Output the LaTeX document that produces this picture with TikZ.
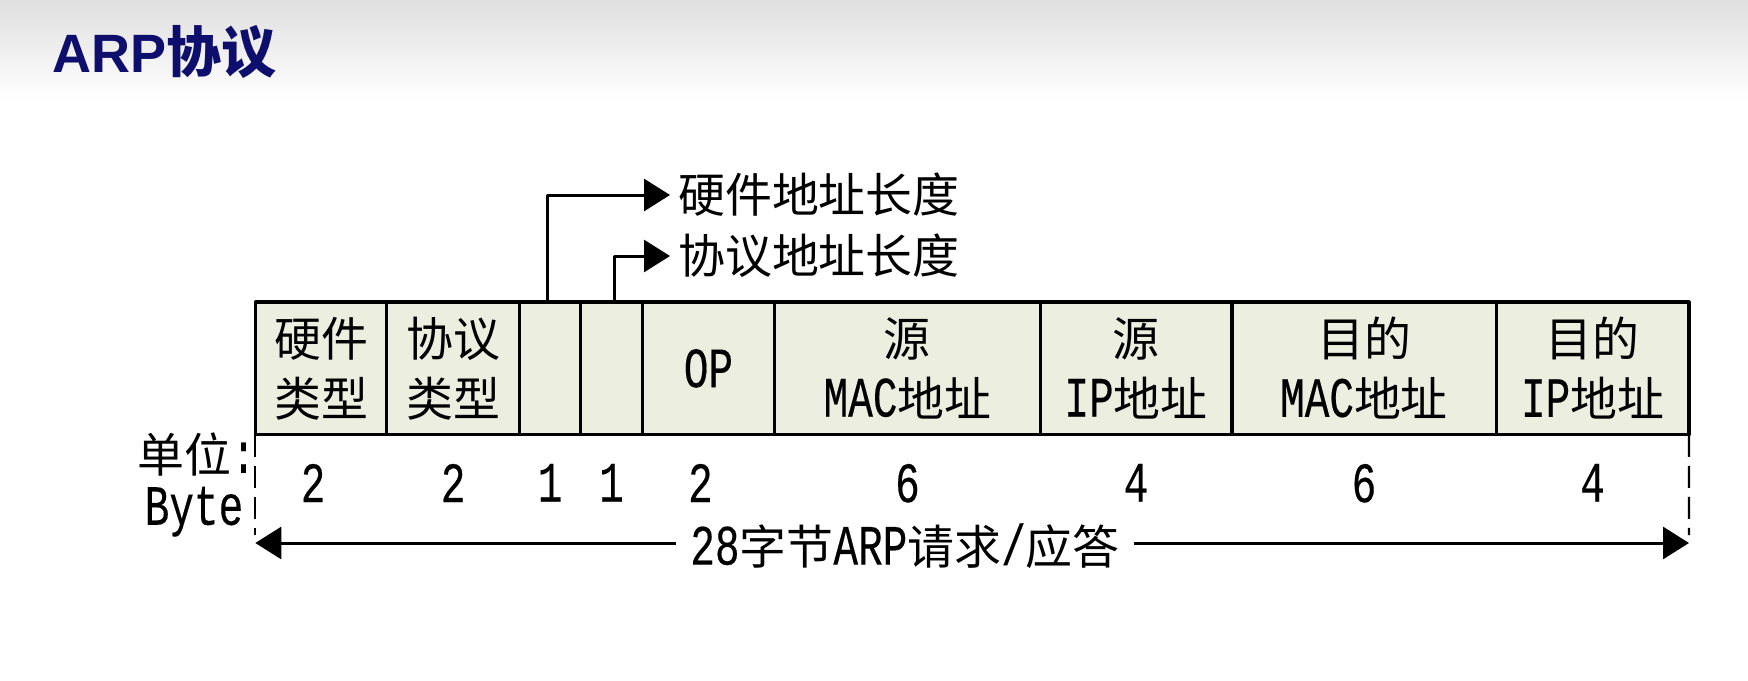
\documentclass[tikz,border=0pt]{standalone}
\usepackage{fontspec}
\setmainfont{Liberation Mono}[Scale=1.24,FakeStretch=0.72,FakeBold=0.3]
\newfontfamily\zhfont{Noto Sans CJK SC}[Scale=1.02]
\newfontfamily\headfont{Liberation Sans}
\newcommand\zh[1]{{\zhfont #1}}
\usetikzlibrary{arrows.meta,positioning}

\begin{document}
\begin{tikzpicture}[x=1pt,y=-1pt,line join=round,
  field/.style={draw,line width=3.2pt,fill=cellfill,minimum height=132.7pt,inner sep=0pt,outer sep=0pt,
    anchor=west,align=center,font=\fontsize{46}{60}\selectfont},
  size/.style={inner sep=0pt,font=\fontsize{46}{50}\selectfont},
  lead/.style={-{Triangle[length=26pt,width=32pt]},line width=3pt},
  bound/.style={line width=2.2pt,dash pattern=on 22pt off 9pt}]
  \definecolor{cellfill}{RGB}{236,238,223}
  \definecolor{titleblue}{RGB}{14,14,108}
  \useasboundingbox (0,0) rectangle (1748,680);
  \fill[white] (0,0) rectangle (1748,680);
  \shade[top color=gray!25,bottom color=white] (0,0) rectangle (1748,100);
  \node[anchor=base west,inner sep=0pt,text=titleblue,font=\fontsize{54}{60}\selectfont] (title) at (52,72.5)
    {\headfont\bfseries ARP\zhfont\bfseries 协议};

  \node[field,minimum width=131.5pt] (hwtype) at (255.3,368.4) {\zh{硬件}\\\zh{类型}};
  \node[field,minimum width=132.7pt] (prtype) at (hwtype.east) {\zh{协议}\\\zh{类型}};
  \node[field,minimum width=61.3pt] (hwlen) at (prtype.east) {};
  \node[field,minimum width=61.3pt] (prlen) at (hwlen.east) {};
  \node[field,minimum width=132.7pt] (op) at (prlen.east) {OP};
  \node[field,minimum width=265.3pt] (srcmac) at (op.east) {\zh{源}\\MAC\zh{地址}};
  \node[field,minimum width=191.8pt] (srcip) at (srcmac.east) {\zh{源}\\IP\zh{地址}};
  \node[field,minimum width=264.2pt] (dstmac) at (srcip.east) {\zh{目的}\\MAC\zh{地址}};
  \node[field,minimum width=192.9pt] (dstip) at (dstmac.east) {\zh{目的}\\IP\zh{地址}};

  \node[size,anchor=west,inner xsep=8pt] (hwlab) at (670,195) {\zh{硬件地址长度}};
  \node[size,anchor=west,inner xsep=8pt] (prlab) at (670,256) {\zh{协议地址长度}};
  \draw[lead] ([xshift=-3pt]hwlen.north) |- (hwlab.west);
  \draw[lead] ([xshift=3pt]prlen.north) |- (prlab.west);

  \node[size,below=29pt of hwtype,xshift=-8pt] (n1) {2};
  \node[size,below=29pt of prtype] (n2) {2};
  \node[size,below=29pt of hwlen] (n3) {1};
  \node[size,below=29pt of prlen] (n4) {1};
  \node[size,below=29pt of op,xshift=-8pt] (n5) {2};
  \node[size,below=29pt of srcmac] (n6) {6};
  \node[size,below=29pt of srcip] (n7) {4};
  \node[size,below=29pt of dstmac] (n8) {6};
  \node[size,below=29pt of dstip] (n9) {4};

  \node[size,anchor=east] (unit) at (256,454.8) {\zh{单位}:};
  \node[size] (byte) at (194,511.7) {Byte};

  \coordinate (ldash) at (255.3,535);
  \coordinate (rdash) at (1689,535);
  \draw[bound] (hwtype.south west) -- (ldash);
  \draw[bound] (dstip.south east) -- (rdash);

  \coordinate (lend) at (255.3,543);
  \coordinate (rend) at (1689,543);
  \node[size,inner xsep=14pt] (total) at (905,546) {28\zh{字节}ARP\zh{请求}/\zh{应答}};
  \draw[lead] (total.west |- lend) -- (lend);
  \draw[lead] (total.east |- rend) -- (rend);
\end{tikzpicture}
\end{document}
